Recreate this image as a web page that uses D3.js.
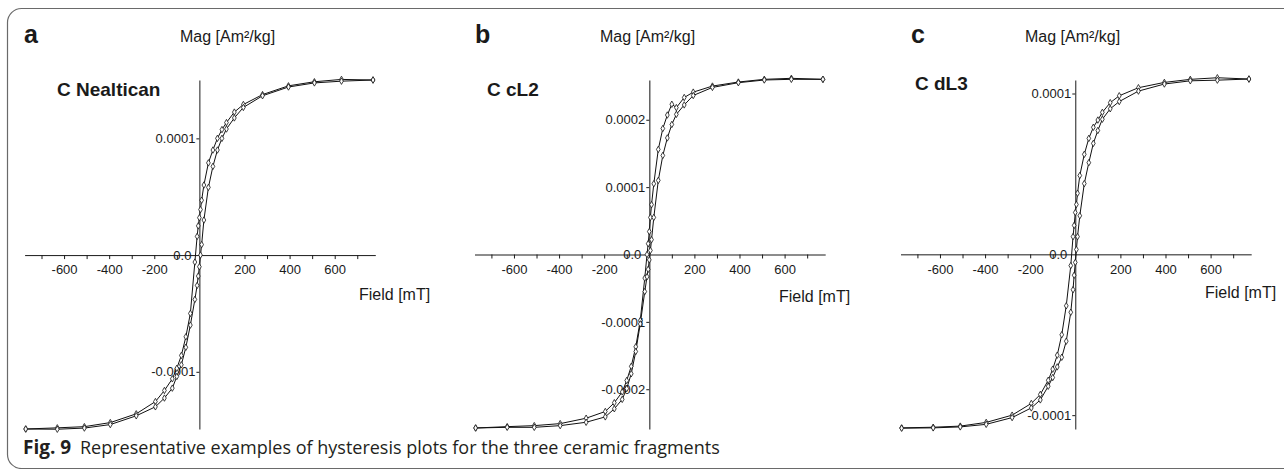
<!DOCTYPE html>
<html>
<head>
<meta charset="utf-8">
<script src="https://cdn.jsdelivr.net/npm/d3@7"></script>
<style>
  body { margin: 0; background: #fff; }
  svg { display: block; }
</style>
</head>
<body>
<svg id="fig" width="1284" height="469"></svg>
<script>
// Applied field steps of the descending sweep (mT); the ascending sweep runs them in reverse.
const fieldsDown = [770, 630, 510, 395, 280, 195, 155, 120, 100, 80, 60, 40, 20, 10, 5, 0,
  -5, -10, -20, -40, -60, -80, -100, -120, -155, -195, -280, -395, -510, -630, -770];
const fieldsUp = fieldsDown.slice().reverse();

// Magnetisation, in units of 1e-4 Am²/kg
const nealticanDown = [1.50, 1.505, 1.485, 1.45, 1.375, 1.29, 1.225, 1.135, 1.075, 1.00, 0.90, 0.79, 0.60, 0.47, 0.39, 0.32,
  0.25, 0.16, -0.06, -0.50, -0.70, -0.86, -0.97, -1.06, -1.16, -1.255, -1.36, -1.435, -1.47, -1.48, -1.49];
const nealticanUp = [-1.49, -1.492, -1.482, -1.452, -1.377, -1.30, -1.225, -1.14, -1.04, -0.94, -0.79, -0.60, -0.38, -0.26, -0.18, -0.10,
  0.0, 0.09, 0.30, 0.58, 0.76, 0.90, 1.00, 1.08, 1.175, 1.265, 1.365, 1.44, 1.475, 1.49, 1.50];

const cL2Down = [2.60, 2.615, 2.60, 2.56, 2.50, 2.41, 2.33, 2.18, 2.23, 2.07, 1.87, 1.56, 1.05, 0.74, 0.55, 0.34,
  0.16, 0.0, -0.35, -0.98, -1.37, -1.66, -1.87, -2.04, -2.20, -2.33, -2.43, -2.51, -2.54, -2.555, -2.575];
const cL2Up = [-2.575, -2.565, -2.565, -2.54, -2.49, -2.41, -2.29, -2.15, -1.99, -1.77, -1.44, -1.03, -0.55, -0.33, -0.22, -0.08,
  0.06, 0.22, 0.55, 1.10, 1.47, 1.73, 1.93, 2.08, 2.22, 2.36, 2.48, 2.55, 2.59, 2.60, 2.60];

const dL3Down = [1.090, 1.098, 1.088, 1.069, 1.036, 0.986, 0.943, 0.883, 0.835, 0.790, 0.721, 0.622, 0.49, 0.38, 0.31, 0.26,
  0.18, 0.11, -0.07, -0.32, -0.50, -0.627, -0.714, -0.783, -0.871, -0.927, -1.00, -1.045, -1.068, -1.075, -1.079];
const dL3Up = [-1.081, -1.079, -1.073, -1.057, -1.015, -0.955, -0.905, -0.82, -0.766, -0.70, -0.64, -0.54, -0.36, -0.22, -0.13, -0.05,
  0.03, 0.11, 0.24, 0.44, 0.57, 0.69, 0.77, 0.84, 0.905, 0.95, 1.015, 1.059, 1.079, 1.083, 1.090];

const panelLetters = ["a", "b", "c"];
const sampleNames = ["C Nealtican", "C cL2", "C dL3"];
const yAxisTitle = "Mag [Am²/kg]";
const xAxisTitle = "Field [mT]";

const xTickValues = [-700, -600, -500, -400, -300, -200, -100, 100, 200, 300, 400, 500, 600, 700];
const xTickLabels = ["", "-600", "", "-400", "", "-200", "", "", "200", "", "400", "", "600", ""];

const yTickValuesA = [-1, 0, 1];
const yTickLabelsA = ["-0.0001", "0.0", "0.0001"];
const yTickValuesB = [-2, -1, 0, 1, 2];
const yTickLabelsB = ["-0.0002", "-0.0001", "0.0", "0.0001", "0.0002"];
const yTickValuesC = [-1, 0, 1];
const yTickLabelsC = ["-0.0001", "0.0", "0.0001"];

const captionLead = "Fig. 9";
const captionText = "Representative examples of hysteresis plots for the three ceramic fragments";

// Per-panel layout
const panels = [
  { down: nealticanDown, up: nealticanUp, yDomain: [-1.49, 1.50], yTicks: yTickValuesA, yLabels: yTickLabelsA,
    xRange: [24.6, 375.3], letterX: 24, magX: 180, nameX: 57, nameY: 96, fieldX: 359, fieldY: 300 },
  { down: cL2Down, up: cL2Up, yDomain: [-2.59, 2.59], yTicks: yTickValuesB, yLabels: yTickLabelsB,
    xRange: [474.5, 825.2], letterX: 475, magX: 600, nameX: 487, nameY: 96, fieldX: 779, fieldY: 302 },
  { down: dL3Down, up: dL3Up, yDomain: [-1.086, 1.084], yTicks: yTickValuesC, yLabels: yTickLabelsC,
    xRange: [900.5, 1251.2], letterX: 911, magX: 1025, nameX: 915, nameY: 90, fieldX: 1205, fieldY: 298 }
];

const svg = d3.select("#fig");
const ARIAL = "'Liberation Sans', Arial, Helvetica, sans-serif";
const INK = "#1a1a1a";

// Frame around the figure
svg.append("rect")
  .attr("x", 7.5).attr("y", 8.5)
  .attr("width", 1320).attr("height", 460)
  .attr("rx", 14).attr("ry", 14)
  .attr("fill", "none").attr("stroke", "#6a6a6a").attr("stroke-width", 1.2);

panels.forEach((p, i) => {
  const x = d3.scaleLinear().domain([-775, 780]).range(p.xRange);
  const y = d3.scaleLinear().domain(p.yDomain).range([429, 80]);
  const g = svg.append("g");

  // x axis through M = 0
  const xAxis = g.append("g")
    .attr("transform", `translate(0,${y(0)})`)
    .call(d3.axisBottom(x).tickValues(xTickValues)
      .tickFormat((d, k) => xTickLabels[k]).tickSize(4).tickSizeOuter(0).tickPadding(6));
  xAxis.selectAll("text").attr("font-family", ARIAL).attr("font-size", 13).attr("fill", INK);
  xAxis.selectAll("line").attr("stroke", INK);
  xAxis.select(".domain").attr("stroke", INK);

  // y axis through H = 0
  const yAxis = g.append("g")
    .attr("transform", `translate(${x(0)},0)`)
    .call(d3.axisLeft(y).tickValues(p.yTicks)
      .tickFormat((d, k) => p.yLabels[k]).tickSize(3).tickSizeOuter(0).tickPadding(1));
  yAxis.selectAll("text").attr("font-family", ARIAL).attr("font-size", 13).attr("fill", INK);
  yAxis.selectAll("line").attr("stroke", INK);
  yAxis.selectAll(".tick").filter(d => d === 0).select("text").attr("dx", -4);
  yAxis.selectAll(".tick").filter(d => d === 0).select("line").remove();
  yAxis.select(".domain").attr("stroke", i === 1 ? "#555" : INK).attr("stroke-width", i === 1 ? 1.4 : 1);

  // Titles
  g.append("text").attr("x", p.letterX).attr("y", 43)
    .attr("font-family", ARIAL).attr("font-weight", "bold").attr("font-size", 25).attr("fill", INK)
    .text(panelLetters[i]);
  g.append("text").attr("x", p.magX).attr("y", 42)
    .attr("font-family", ARIAL).attr("font-size", 16).attr("fill", INK)
    .text(yAxisTitle);
  g.append("text").attr("x", p.nameX).attr("y", p.nameY)
    .attr("font-family", ARIAL).attr("font-weight", "bold").attr("font-size", 19).attr("fill", INK)
    .text(sampleNames[i]);
  g.append("text").attr("x", p.fieldX).attr("y", p.fieldY)
    .attr("font-family", ARIAL).attr("font-size", 16).attr("fill", INK)
    .text(xAxisTitle);

  // Hysteresis branches
  const branches = [
    fieldsDown.map((h, k) => [h, p.down[k]]),
    fieldsUp.map((h, k) => [h, p.up[k]])
  ];
  const line = d3.line().x(d => x(d[0])).y(d => y(d[1]));
  branches.forEach(b => {
    g.append("path").attr("d", line(b))
      .attr("fill", "none").attr("stroke", "#111").attr("stroke-width", 1);
  });
  branches.forEach(b => {
    g.selectAll(null).data(b).join("path")
      .attr("transform", d => `translate(${x(d[0])},${y(d[1])})`)
      .attr("d", d3.symbol(d3.symbolDiamond, 12))
      .attr("fill", "#fff").attr("stroke", "#111").attr("stroke-width", 0.8);
  });
});

// Caption
const cap = svg.append("text").attr("x", 23).attr("y", 454)
  .attr("font-family", "'Open Sans', 'Noto Sans', sans-serif").attr("fill", "#231f20");
cap.append("tspan").attr("font-weight", "bold").attr("font-size", 19).text(captionLead);
cap.append("tspan").attr("x", 80).attr("font-size", 18).text(captionText);
</script>
</body>
</html>
